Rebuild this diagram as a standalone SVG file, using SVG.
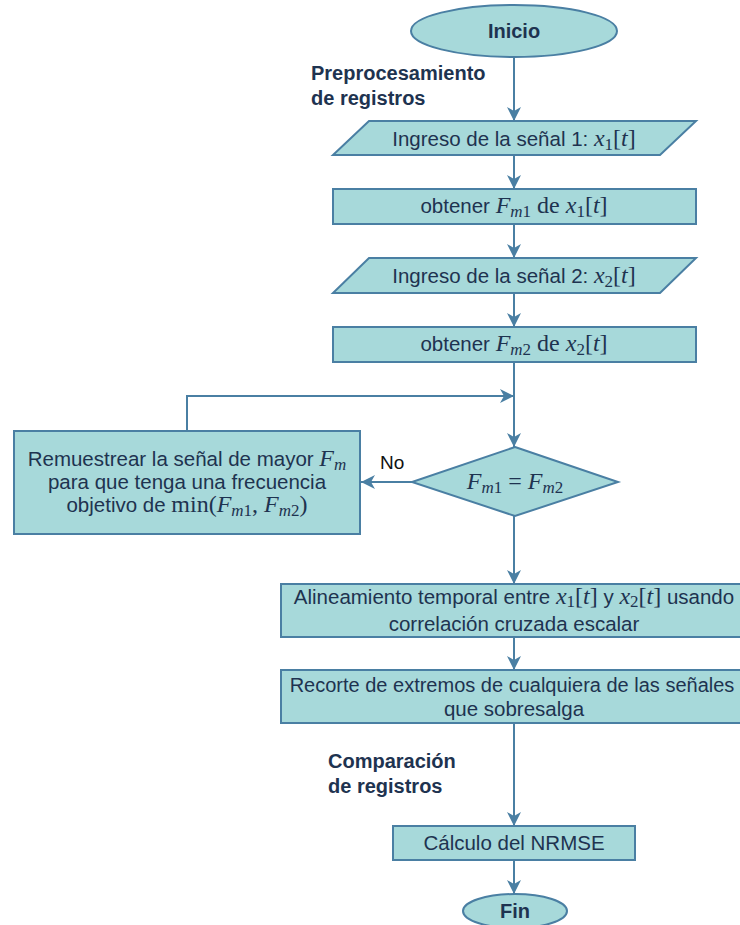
<svg xmlns="http://www.w3.org/2000/svg" width="740" height="925" viewBox="0 0 740 925">
  <defs>
    <marker id="arrow" markerUnits="userSpaceOnUse" markerWidth="16" markerHeight="16" refX="14" refY="8" orient="auto">
      <path d="M0,1 L14,8 L0,15 L4,8 z" fill="#4a7fa3"/>
    </marker>
    <style>
      .shape { fill: #a7d9da; stroke: #4a7fa3; stroke-width: 2; }
      .edge { fill: none; stroke: #4a7fa3; stroke-width: 2; }
      .t { font-family: "Liberation Sans", Arial, sans-serif; font-size: 20.5px; fill: #1e3350; }
      .tc { text-anchor: middle; }
      .b { font-weight: bold; font-size: 20px; }
      .mi { font-family: "Liberation Serif", "Times New Roman", serif; font-style: italic; font-size: 24px; }
      .mr { font-family: "Liberation Serif", "Times New Roman", serif; font-style: normal; font-size: 24px; }
      .sub { font-family: "Liberation Serif", "Times New Roman", serif; font-style: normal; font-size: 17px; }
      .sub .it { font-style: italic; }
      .lbl { font-family: "Liberation Sans", Arial, sans-serif; font-size: 19px; fill: #111111; }
    </style>
  </defs>

  <!-- section labels -->
  <text class="t b" x="311" y="80">Preprocesamiento</text>
  <text class="t b" x="311" y="105">de registros</text>
  <text class="t b" x="328" y="768">Comparación</text>
  <text class="t b" x="328" y="793">de registros</text>

  <!-- connectors -->
  <g id="connectors">
    <line class="edge" x1="514" y1="57" x2="514" y2="121" marker-end="url(#arrow)"/>
    <line class="edge" x1="514" y1="155" x2="514" y2="189" marker-end="url(#arrow)"/>
    <line class="edge" x1="514" y1="224" x2="514" y2="258" marker-end="url(#arrow)"/>
    <line class="edge" x1="514" y1="293" x2="514" y2="327" marker-end="url(#arrow)"/>
    <line class="edge" x1="514" y1="362" x2="514" y2="447" marker-end="url(#arrow)"/>
    <polyline class="edge" points="187,431 187,396 514,396" marker-end="url(#arrow)"/>
    <line class="edge" x1="412" y1="482" x2="361" y2="482" marker-end="url(#arrow)"/>
    <line class="edge" x1="514" y1="516" x2="514" y2="584" marker-end="url(#arrow)"/>
    <line class="edge" x1="514" y1="637" x2="514" y2="670" marker-end="url(#arrow)"/>
    <line class="edge" x1="514" y1="723" x2="514" y2="826" marker-end="url(#arrow)"/>
    <line class="edge" x1="514" y1="860" x2="514" y2="894" marker-end="url(#arrow)"/>
    <text class="lbl" x="380" y="469">No</text>
  </g>

  <g id="inicio">
    <ellipse class="shape" cx="514" cy="31" rx="103" ry="26"/>
    <text class="t b tc" x="514" y="38">Inicio</text>
  </g>

  <g id="ingreso1">
    <polygon class="shape" points="369,121 696,121 660,155 333,155"/>
    <text class="t tc" x="514" y="146">Ingreso de la señal 1: <tspan class="mi">x</tspan><tspan class="sub" dy="4">1</tspan><tspan class="mr" dy="-4">[</tspan><tspan class="mi">t</tspan><tspan class="mr">]</tspan></text>
  </g>

  <g id="fm1">
    <rect class="shape" x="333" y="189" width="363" height="35"/>
    <text class="t tc" x="514" y="213">obtener <tspan class="mi">F</tspan><tspan class="sub" dy="4"><tspan class="it">m</tspan>1</tspan><tspan class="mr" dy="-4"> de </tspan><tspan class="mi">x</tspan><tspan class="sub" dy="4">1</tspan><tspan class="mr" dy="-4">[</tspan><tspan class="mi">t</tspan><tspan class="mr">]</tspan></text>
  </g>

  <g id="ingreso2">
    <polygon class="shape" points="369,258 696,258 660,293 333,293"/>
    <text class="t tc" x="514" y="283">Ingreso de la señal 2: <tspan class="mi">x</tspan><tspan class="sub" dy="4">2</tspan><tspan class="mr" dy="-4">[</tspan><tspan class="mi">t</tspan><tspan class="mr">]</tspan></text>
  </g>

  <g id="fm2">
    <rect class="shape" x="333" y="327" width="363" height="35"/>
    <text class="t tc" x="514" y="351">obtener <tspan class="mi">F</tspan><tspan class="sub" dy="4"><tspan class="it">m</tspan>2</tspan><tspan class="mr" dy="-4"> de </tspan><tspan class="mi">x</tspan><tspan class="sub" dy="4">2</tspan><tspan class="mr" dy="-4">[</tspan><tspan class="mi">t</tspan><tspan class="mr">]</tspan></text>
  </g>

  <g id="decision">
    <polygon class="shape" points="515,447 618,482 515,516 412,482"/>
    <text class="t tc" x="515" y="489"><tspan class="mi">F</tspan><tspan class="sub" dy="4"><tspan class="it">m</tspan>1</tspan><tspan class="mr" dy="-4"> = </tspan><tspan class="mi">F</tspan><tspan class="sub" dy="4"><tspan class="it">m</tspan>2</tspan></text>
  </g>

  <g id="remuestreo">
    <rect class="shape" x="14" y="431" width="346" height="103"/>
    <text class="t tc" x="187" y="466">Remuestrear la señal de mayor <tspan class="mi">F</tspan><tspan class="sub" dy="4"><tspan class="it">m</tspan></tspan></text>
    <text class="t tc" x="187" y="489">para que tenga una frecuencia</text>
    <text class="t tc" x="187" y="512">objetivo de <tspan class="mr">min(</tspan><tspan class="mi">F</tspan><tspan class="sub" dy="4"><tspan class="it">m</tspan>1</tspan><tspan class="mr" dy="-4">, </tspan><tspan class="mi">F</tspan><tspan class="sub" dy="4"><tspan class="it">m</tspan>2</tspan><tspan class="mr" dy="-4">)</tspan></text>
  </g>

  <g id="alineamiento">
    <rect class="shape" x="281" y="584" width="466" height="53"/>
    <text class="t tc" x="514" y="604">Alineamiento temporal entre <tspan class="mi">x</tspan><tspan class="sub" dy="3">1</tspan><tspan class="mr" dy="-3">[</tspan><tspan class="mi">t</tspan><tspan class="mr">]</tspan> y <tspan class="mi">x</tspan><tspan class="sub" dy="3">2</tspan><tspan class="mr" dy="-3">[</tspan><tspan class="mi">t</tspan><tspan class="mr">]</tspan> usando</text>
    <text class="t tc" x="514" y="631">correlación cruzada escalar</text>
  </g>

  <g id="recorte">
    <rect class="shape" x="281" y="670" width="466" height="53"/>
    <text class="t tc" x="512" y="692" style="font-size:20px">Recorte de extremos de cualquiera de las señales</text>
    <text class="t tc" x="514" y="716">que sobresalga</text>
  </g>

  <g id="nrmse">
    <rect class="shape" x="393" y="826" width="242" height="34"/>
    <text class="t tc" x="514" y="850">Cálculo del NRMSE</text>
  </g>

  <g id="fin">
    <ellipse class="shape" cx="515" cy="911" rx="52" ry="17"/>
    <text class="t b tc" x="515" y="918">Fin</text>
  </g>
</svg>
